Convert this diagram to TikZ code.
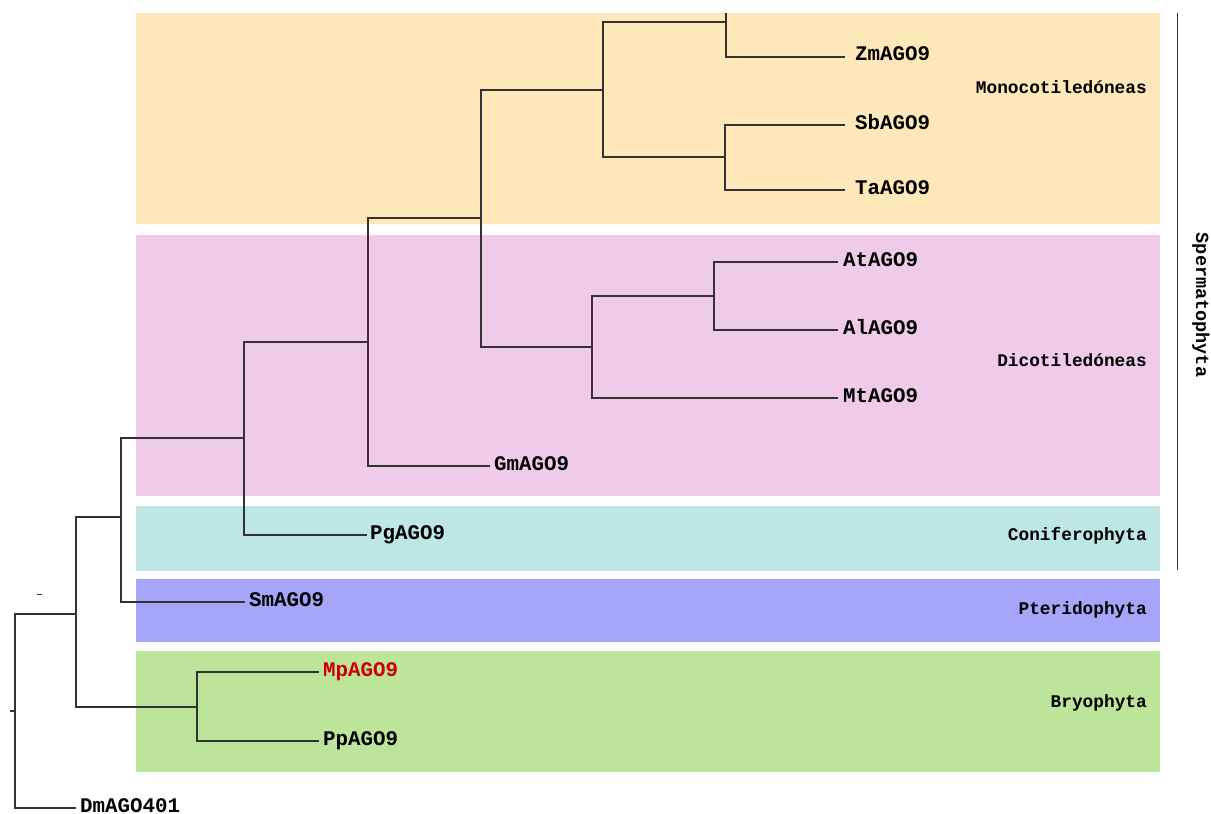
\documentclass[tikz,border=0pt]{standalone}
\usepackage{fontspec}
\setmonofont{Liberation Mono}
\definecolor{cMono}{HTML}{FEE8B9}
\definecolor{cDico}{HTML}{F0CAE9}
\definecolor{cConi}{HTML}{BEE6E4}
\definecolor{cPter}{HTML}{A5A5FA}
\definecolor{cBryo}{HTML}{BDE49B}
\definecolor{cLine}{HTML}{333333}
\definecolor{cRed}{HTML}{CC0000}
\tikzset{
  branch/.style={draw=cLine, line width=1.3pt},
  band/.style={fill=#1, draw=none},
  taxon/.style={anchor=base west, inner sep=0pt, font=\ttfamily\bfseries\fontsize{20.8}{24}\selectfont},
  clade/.style={anchor=base east, inner sep=0pt, font=\ttfamily\bfseries\fontsize{17.8}{21}\selectfont},
}
\begin{document}
\begin{tikzpicture}[x=1pt,y=-1pt]
\useasboundingbox (0,0) rectangle (1211,814);
% colored bands
\path[band=cMono] (136,13) rectangle (1160,224);
\path[band=cDico] (136,235) rectangle (1160,496);
\path[band=cConi] (136,506) rectangle (1160,571);
\path[band=cPter] (136,579) rectangle (1160,642);
\path[band=cBryo] (136,651) rectangle (1160,772);
% clade labels
\node[clade] (lMono) at (1147,93) {Monocotiledóneas};
\node[clade] (lDico) at (1147,366) {Dicotiledóneas};
\node[clade] (lConi) at (1147,540) {Coniferophyta};
\node[clade] (lPter) at (1147,614) {Pteridophyta};
\node[clade] (lBryo) at (1147,707) {Bryophyta};
% Spermatophyta bracket
\coordinate (sTop) at (1177,13);
\coordinate (sBot) at (1177,570);
\draw[branch, line width=1pt] (sTop) -- (sBot);
\node[rotate=-90, inner sep=0pt, font=\ttfamily\bfseries\fontsize{18.5}{21}\selectfont] (lSperm) at (1201,305) {Spermatophyta};
% internal nodes
\coordinate (r) at (15,711);
\coordinate (rs) at (10,711);
\coordinate (a) at (76,614);
\coordinate (b) at (121,517);
\coordinate (c) at (244,438);
\coordinate (d) at (368,342);
\coordinate (e) at (481,218);
\coordinate (f) at (603,90);
\coordinate (g) at (592,347);
\coordinate (h) at (726,22);
\coordinate (htop) at (726,13);
\coordinate (i) at (725,157);
\coordinate (j) at (714,296);
\coordinate (k) at (197,707);
% leaf ends
\coordinate (eZm) at (845,57);
\coordinate (eSb) at (845,125);
\coordinate (eTa) at (845,190);
\coordinate (eAt) at (838,262);
\coordinate (eAl) at (838,330);
\coordinate (eMt) at (838,398);
\coordinate (eGm) at (490,466);
\coordinate (ePg) at (367,535);
\coordinate (eSm) at (245,602);
\coordinate (eMp) at (319,672);
\coordinate (ePp) at (319,741);
\coordinate (eDm) at (76,808);
% taxon labels
\node[taxon] (Zm) at (855,60) {ZmAGO9};
\node[taxon] (Sb) at (855,129) {SbAGO9};
\node[taxon] (Ta) at (855,194) {TaAGO9};
\node[taxon] (At) at (843,266) {AtAGO9};
\node[taxon] (Al) at (843,334) {AlAGO9};
\node[taxon] (Mt) at (843,402) {MtAGO9};
\node[taxon] (Gm) at (494,470) {GmAGO9};
\node[taxon] (Pg) at (370,539) {PgAGO9};
\node[taxon] (Sm) at (249,606) {SmAGO9};
\node[taxon, text=cRed] (Mp) at (323,676) {MpAGO9};
\node[taxon] (Pp) at (323,745) {PpAGO9};
\node[taxon] (Dm) at (80,812) {DmAGO401};
% branches
\draw[branch] (rs) -- (r);
\draw[branch] (r) |- (a);
\draw[branch] (r) |- (eDm);
\draw[branch] (a) |- (b);
\draw[branch] (a) |- (k);
\draw[branch] (b) |- (c);
\draw[branch] (b) |- (eSm);
\draw[branch] (c) |- (d);
\draw[branch] (c) |- (ePg);
\draw[branch] (d) |- (e);
\draw[branch] (d) |- (eGm);
\draw[branch] (e) |- (f);
\draw[branch] (e) |- (g);
\draw[branch] (f) |- (h);
\draw[branch] (f) |- (i);
\draw[branch] (h) -- (htop);
\draw[branch] (h) |- (eZm);
\draw[branch] (i) |- (eSb);
\draw[branch] (i) |- (eTa);
\draw[branch] (g) |- (j);
\draw[branch] (g) |- (eMt);
\draw[branch] (j) |- (eAt);
\draw[branch] (j) |- (eAl);
\draw[branch] (k) |- (eMp);
\draw[branch] (k) |- (ePp);
% support mark
\coordinate (m1) at (37,594);
\coordinate (m2) at (42,594);
\draw[draw=cLine, line width=1pt] (m1) -- (m2);
\end{tikzpicture}
\end{document}
